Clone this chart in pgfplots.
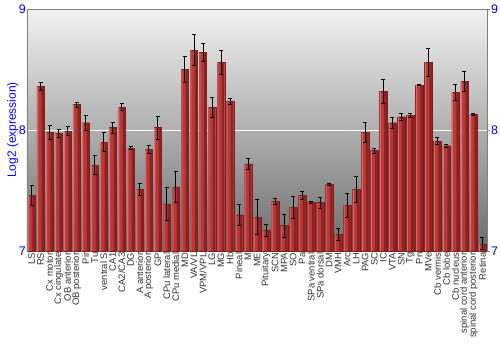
\documentclass[border=0pt]{standalone}
\usepackage{pgfplots}
\pgfplotsset{compat=1.18}
\usepackage{pgfplotstable}
\usepackage{fontspec}
\setmainfont{Liberation Sans}
\definecolor{tickblue}{RGB}{0,0,255}
\definecolor{barL}{RGB}{214,112,108}
\definecolor{barM}{RGB}{184,58,56}
\definecolor{barR}{RGB}{142,34,34}
\definecolor{barD}{RGB}{125,28,28}
\definecolor{bgTop}{RGB}{242,242,242}
\definecolor{bgBot}{RGB}{108,108,108}
\pgfplotstableread{
idx val err
0 7.46 0.085
1 8.36 0.033
2 7.98 0.058
3 7.97 0.033
4 7.99 0.037
5 8.21 0.020
6 8.06 0.060
7 7.71 0.080
8 7.90 0.080
9 8.02 0.045
10 8.19 0.030
11 7.85 0.012
12 7.51 0.050
13 7.84 0.033
14 8.02 0.095
15 7.39 0.140
16 7.53 0.130
17 8.50 0.107
18 8.66 0.127
19 8.64 0.075
20 8.19 0.083
21 8.56 0.098
22 8.24 0.024
23 7.30 0.085
24 7.72 0.044
25 7.28 0.145
26 7.17 0.050
27 7.41 0.025
28 7.21 0.096
29 7.36 0.092
30 7.46 0.030
31 7.40 0.007
32 7.40 0.045
33 7.55 0.008
34 7.14 0.050
35 7.38 0.100
36 7.51 0.110
37 7.98 0.080
38 7.83 0.022
39 8.32 0.100
40 8.06 0.048
41 8.11 0.030
42 8.12 0.017
43 8.37 0.005
44 8.56 0.115
45 7.91 0.030
46 7.87 0.011
47 8.31 0.065
48 8.40 0.083
49 8.13 0.006
50 7.06 0.050
}\data
\begin{document}
\begin{tikzpicture}
\begin{axis}[
  name=main,
  scale only axis, width=460bp, height=242bp,
  xmin=-0.5, xmax=50.5, ymin=7, ymax=9,
  ytick={7,8,9}, ymajorgrids, grid style={white, line width=0.9pt},
  axis background/.style={top color=bgTop, bottom color=bgBot},
  axis line style={gray},
  ytick pos=left,
  ytick style={draw=none},
  yticklabel style={tickblue, font=\fontsize{12.5}{13}\selectfont, inner sep=1pt},
  /pgf/number format/assume math mode=true,
  ylabel={Log2 (expression)},
  ylabel style={tickblue, font=\fontsize{12}{13}\selectfont, yshift=-4bp},
  xtick={0,...,50},
  xtick style={draw=none},
  xticklabels={LS,RS,Cx motor,Cx cingulate,OB anterior,OB posterior,Pir,Tu,ventral S,CA1,CA2/CA3,DG,A anterior,A posterior,GP,CPu lateral,CPu medial,MD,VA/VL,VPM/VPL,LG,MG,Hb,Pineal,M,ME,Pituitary,SCN,MPA,SO,Pa,SPa ventral,SPa dorsal,DM,VMH,Arc,LH,PAG,SC,IC,VTA,SN,Tg,Pn,MVe,Cb vermis,Cb lobe,Cb nucleus,spinal cord anterior,spinal cord posterior,Retina},
  x tick label style={rotate=90, anchor=east, font=\fontsize{9.5}{10}\selectfont, inner sep=1.5pt, text=black!80},
]
% bar body
\addplot[ybar, bar width=7.5bp, bar shift=0pt, fill=barM, draw=barD, line width=0.3pt, forget plot]
  table[x=idx, y=val] {\data};
% darker right part
\addplot[ybar, bar width=2.6bp, bar shift=2.2bp, fill=barR, draw=none, forget plot]
  table[x=idx, y=val] {\data};
% light left edge
\addplot[ybar, bar width=1.1bp, bar shift=-3.0bp, fill=barL, draw=none, forget plot]
  table[x=idx, y=val] {\data};
% error bars
\addplot[ybar, bar width=0.1bp, bar shift=0pt, fill=none, draw=none,
  error bars/.cd, y dir=both, y explicit,
  error bar style={draw=black, line width=0.7pt},
  error mark options={rotate=90, mark size=2bp, draw=black, line width=0.7pt}]
  table[x=idx, y=val, y error=err] {\data};
\end{axis}
\begin{axis}[
  scale only axis, width=460bp, height=242bp,
  xmin=-0.5, xmax=50.5, ymin=7, ymax=9,
  axis y line*=right, axis x line=none,
  axis line style={gray},
  ytick={7,8,9},
  tick align=outside, major tick length=3bp,
  ytick style={gray},
  yticklabel style={tickblue, font=\fontsize{12.5}{13}\selectfont, inner sep=1pt},
  /pgf/number format/assume math mode=true,
]
\end{axis}
\path ([shift={(-27bp,-99bp)}]main.south west) rectangle ([shift={(13bp,9bp)}]main.north east);
\end{tikzpicture}
\end{document}
